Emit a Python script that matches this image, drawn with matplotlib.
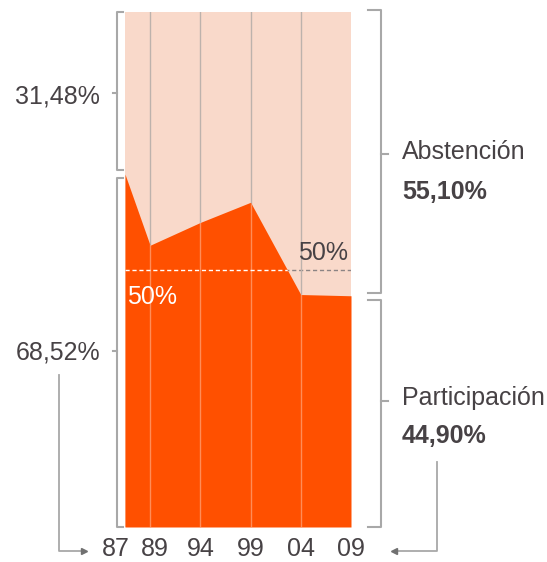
import matplotlib
matplotlib.use('Agg')
import matplotlib.pyplot as plt
from matplotlib.lines import Line2D
import matplotlib.transforms as mtransforms

years = ['87', '89', '94', '99', '04', '09']
positions = [0, 0.5, 1.5, 2.5, 3.5, 4.5]
participacion = [68.52, 54.71, 59.14, 63.05, 45.14, 44.90]
abstencion = [round(100 - p, 2) for p in participacion]
threshold = 50
label_dx = [-9, 5, 0, 0, 0, 0]

W, H = 547, 562
plt.rcParams['font.family'] = ['Liberation Sans', 'DejaVu Sans']
fig = plt.figure(figsize=(W / 100, H / 100), dpi=100)
ax = fig.add_axes([125 / W, 35 / H, 226 / W, 515 / H])
ax.set_xlim(positions[0], positions[-1])
ax.set_ylim(0, 100)
ax.axis('off')

ORANGE = '#ff5000'
LIGHT = '#f9d9ca'
TEXT = '#474245'
GREY = '#a8a8a8'
FS = 18


def fmt(v):
    return f"{v:.2f}".replace('.', ',') + '%'


ax.fill_between(positions, 0, 100, color=LIGHT, lw=0, zorder=1)
ax.plot([positions[0], positions[-1]], [threshold] * 2, color='#8c8484',
        ls=(0, (3, 2)), lw=1, zorder=2)
for p in positions[1:-1]:
    ax.plot([p, p], [0, 100], color='#bdb2ac', lw=1, zorder=2)
poly = ax.fill_between(positions, 0, participacion, color=ORANGE, lw=0, zorder=3)
clip = poly.get_paths()[0]
wl, = ax.plot([positions[0], positions[-1]], [threshold] * 2, color='white',
              ls=(0, (3, 2)), lw=1, zorder=4)
wl.set_clip_path(clip, ax.transData)
for p in positions[1:-1]:
    gl, = ax.plot([p, p], [0, 100], color='#ffffff', alpha=0.35, lw=1, zorder=4)
    gl.set_clip_path(clip, ax.transData)

# 50% labels
ax.annotate(f"{threshold}%", xy=(positions[0], threshold), xytext=(2, -28),
            textcoords='offset pixels', color='white', fontsize=FS,
            ha='left', va='center', zorder=6)
ax.annotate(f"{threshold}%", xy=(positions[-1], threshold), xytext=(-3, 17),
            textcoords='offset pixels', color=TEXT, fontsize=FS,
            ha='right', va='center', zorder=6)

# x labels
for p, lab, dx in zip(positions, years, label_dx):
    ax.annotate(lab, xy=(p, 0), xytext=(dx, -22), textcoords='offset pixels',
                color=TEXT, fontsize=FS, ha='center', va='center',
                annotation_clip=False)

# brackets
tr = mtransforms.blended_transform_factory(fig.transFigure, ax.transData)


def fx(px):
    return px / W


def bracket(xv, xend, xtick, y0, y1, ytick):
    fig.add_artist(Line2D([fx(xend), fx(xv), fx(xv), fx(xend)], [y0, y0, y1, y1],
                          color=GREY, lw=1.5, transform=tr))
    fig.add_artist(Line2D([fx(xv), fx(xtick)], [ytick, ytick],
                          color=GREY, lw=1.5, transform=tr))


first = participacion[0]
last = participacion[-1]
gap = 0.8
bracket(117, 123, 113, 100, first + gap, (100 + first) / 2)
bracket(117, 123, 113, first - gap, 0, first / 2)
bracket(381, 368, 388, 100.4, last + 0.6, (100 + last) / 2)
bracket(381, 368, 388, last - 0.8, 0, 24.5)

# left labels
ax.annotate(fmt(abstencion[0]), xy=(fx(100), (100 + first) / 2), xycoords=tr,
            xytext=(0, -3), textcoords='offset pixels',
            ha='right', va='center', fontsize=FS, color=TEXT)
ax.annotate(fmt(first), xy=(fx(100), first / 2), xycoords=tr,
            xytext=(0, -2), textcoords='offset pixels',
            ha='right', va='center', fontsize=FS, color=TEXT)

# right labels
ax.annotate('Abstención', xy=(fx(402), (100 + last) / 2), xycoords=tr,
            xytext=(0, 2), textcoords='offset pixels',
            ha='left', va='center', fontsize=FS, color=TEXT)
ax.annotate(fmt(abstencion[-1]), xy=(fx(402), (100 + last) / 2), xycoords=tr,
            xytext=(0, -38), textcoords='offset pixels',
            ha='left', va='center', fontsize=FS, color=TEXT, fontweight='bold')
ax.annotate('Participación', xy=(fx(402), 24.5), xycoords=tr,
            xytext=(0, 3), textcoords='offset pixels',
            ha='left', va='center', fontsize=FS, color=TEXT)
ax.annotate(fmt(last), xy=(fx(402), 24.5), xycoords=tr,
            xytext=(0, -35), textcoords='offset pixels',
            ha='left', va='center', fontsize=FS, color=TEXT, fontweight='bold')

# connector arrows (pixel coords from top-left)
def fy(py):
    return 1 - py / H


fig.add_artist(Line2D([fx(59), fx(59), fx(82)], [fy(375), fy(551), fy(551)],
                      color=GREY, lw=1.3, transform=fig.transFigure))
fig.add_artist(Line2D([fx(84)], [fy(551)], marker='>', markersize=5, color='#707070',
                      transform=fig.transFigure))
fig.add_artist(Line2D([fx(437), fx(437), fx(396)], [fy(462), fy(551), fy(551)],
                      color=GREY, lw=1.3, transform=fig.transFigure))
fig.add_artist(Line2D([fx(394)], [fy(551)], marker='<', markersize=5, color='#707070',
                      transform=fig.transFigure))

fig.savefig('out.png', dpi=100, facecolor='white')
